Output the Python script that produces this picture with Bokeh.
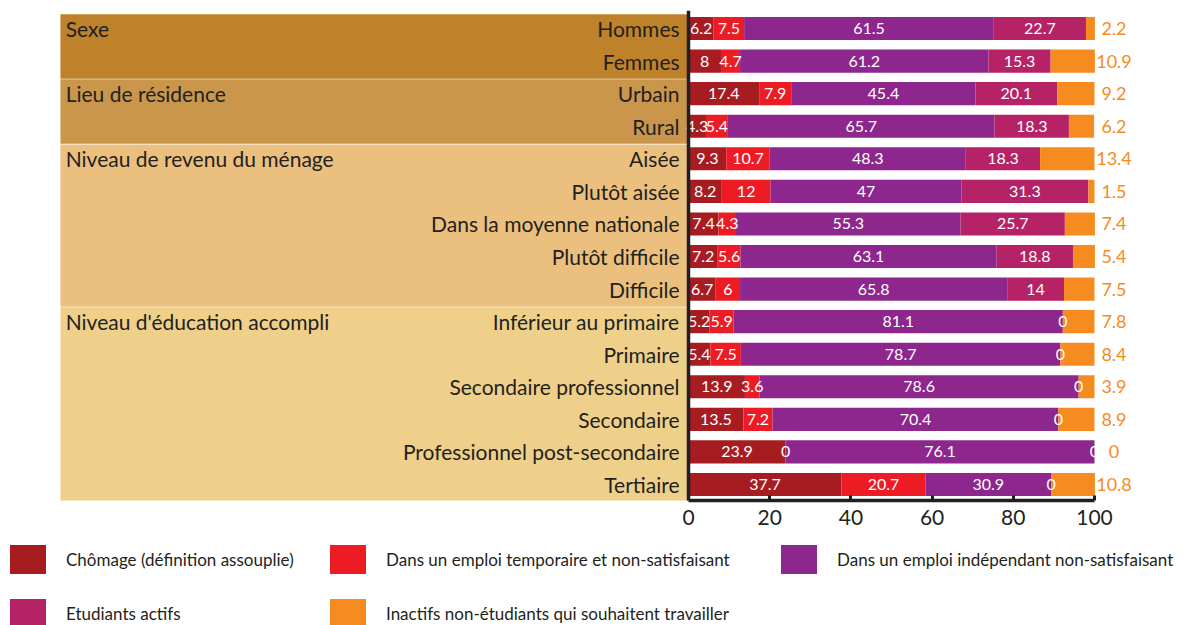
import numpy as np
from bokeh.plotting import figure
from bokeh.models import Range1d, LinearAxis, FixedTicker, Span, Legend, LegendItem
from bokeh.layouts import column
from bokeh.core.properties import value
from bokeh.embed import file_html
from bokeh.resources import INLINE

# ---------------- data ----------------
categories = ["Hommes", "Femmes", "Urbain", "Rural", "Aisée", "Plutôt aisée",
              "Dans la moyenne nationale", "Plutôt difficile", "Difficile",
              "Inférieur au primaire", "Primaire", "Secondaire professionnel",
              "Secondaire", "Professionnel post-secondaire", "Tertiaire"]
group_names = ["Sexe", "Lieu de résidence", "Niveau de revenu du ménage",
               "Niveau d'éducation accompli"]
group_sizes = [2, 2, 5, 6]
series_names = ["Chômage (définition assouplie)",
                "Dans un emploi temporaire et non-satisfaisant",
                "Dans un emploi indépendant non-satisfaisant",
                "Etudiants actifs",
                "Inactifs non-étudiants qui souhaitent travailler"]
chomage = [6.2, 8, 17.4, 4.3, 9.3, 8.2, 7.4, 7.2, 6.7, 5.2, 5.4, 13.9, 13.5, 23.9, 37.7]
temporaire = [7.5, 4.7, 7.9, 5.4, 10.7, 12, 4.3, 5.6, 6, 5.9, 7.5, 3.6, 7.2, 0, 20.7]
independant = [61.5, 61.2, 45.4, 65.7, 48.3, 47, 55.3, 63.1, 65.8, 81.1, 78.7, 78.6, 70.4, 76.1, 30.9]
etudiants = [22.7, 15.3, 20.1, 18.3, 18.3, 31.3, 25.7, 18.8, 14, 0, 0, 0, 0, 0, 0]
inactifs = [2.2, 10.9, 9.2, 6.2, 13.4, 1.5, 7.4, 5.4, 7.5, 7.8, 8.4, 3.9, 8.9, 0, 10.8]
x_ticks = [0, 20, 40, 60, 80, 100]

# ---------------- style ----------------
FONT = "Lato"
INK = "#231F20"
colors = ["#A71C20", "#ED1C24", "#8E278D", "#B52266", "#F68B1F"]
box_colors = ["#BE822A", "#C9964C", "#EBBF7E", "#EED08A"]
BOX_LEFT = -154.7
TITLE_X = -153.4
CAT_X = -2.2
OUT_LABEL_X = 104.8

def fmt(v):
    return f"{v:g}"

n = len(categories)
ypos = np.arange(n)[::-1].astype(float)
series = [chomage, temporaire, independant, etudiants, inactifs]
vals = np.array(series, dtype=float)
rights = np.cumsum(vals, axis=0)
lefts = rights - vals

XR = (-169.46, 122.17)
YR = (-0.491, 14.553)

p = figure(width=1184, height=538,
           x_range=Range1d(*XR), y_range=Range1d(*YR),
           output_backend="svg", toolbar_location=None,
           x_axis_type=None, y_axis_type=None,
           min_border_left=0, min_border_right=0,
           min_border_top=10, min_border_bottom=38)
p.outline_line_color = None
p.background_fill_color = "white"

# group boxes
starts = np.cumsum([0] + group_sizes[:-1])
box_top = [ypos[s] + 0.44 for s in starts]
box_bottom = [ypos[s + g - 1] - 0.54 for s, g in zip(starts, group_sizes)]
p.quad(left=BOX_LEFT, right=0, top=box_top, bottom=box_bottom,
       fill_color=box_colors, line_color=None)

# group titles
p.text(x=TITLE_X, y=[ypos[s] for s in starts], text=group_names,
       text_font=value(FONT), text_font_size="21px", text_color=INK,
       text_align="left", text_baseline="middle")

# category labels
p.text(x=CAT_X, y=ypos, text=categories,
       text_font=value(FONT), text_font_size="21px", text_color=INK,
       text_align="right", text_baseline="middle")

# bars
for k in range(len(series)):
    p.hbar(y=ypos, left=lefts[k], right=rights[k], height=0.71,
           fill_color=colors[k], line_color=None)

# inner value labels
for k in range(4):
    p.text(x=(lefts[k] + rights[k]) / 2, y=ypos, text=[fmt(v) for v in series[k]],
           text_font=value(FONT), text_font_size="16px", text_color="white",
           text_align="center", text_baseline="middle")

# outer labels (inactifs)
p.text(x=OUT_LABEL_X, y=ypos, text=[fmt(v) for v in inactifs],
       text_font=value(FONT), text_font_size="18px", text_color=colors[4],
       text_align="center", text_baseline="middle")

# left axis line
p.add_layout(Span(location=0, dimension="height", line_color=INK, line_width=3.5))

# bottom axis
xaxis = LinearAxis(ticker=FixedTicker(ticks=x_ticks), bounds=(0, 100))
xaxis.axis_line_color = INK
xaxis.axis_line_width = 3.5
xaxis.major_tick_line_color = INK
xaxis.major_tick_line_width = 3
xaxis.major_tick_in = 5
xaxis.major_tick_out = 0
xaxis.minor_tick_line_color = None
xaxis.major_label_standoff = 9
xaxis.major_label_text_font = FONT
xaxis.major_label_text_font_size = "21px"
xaxis.major_label_text_color = INK
p.add_layout(xaxis, "below")

# ---------------- legend panel ----------------
LH = 87
lf = figure(width=1184, height=LH, x_range=Range1d(*XR), y_range=Range1d(100, 101),
            output_backend="svg", toolbar_location=None,
            x_axis_type=None, y_axis_type=None, min_border=0)
lf.outline_line_color = None
# same bars (kept out of view) serve as legend sources
lrends = [lf.hbar(y=ypos, left=lefts[k], right=rights[k], height=0.71,
                  fill_color=colors[k], line_color=None)
          for k in range(len(series))]

legend_cols = [[0, 3], [1, 4], [2]]
legend_x = [5, 325, 776]
LEG_TOP = 3
ITEM_H = 36
ITEM_GAP = 18
for col, lx in zip(legend_cols, legend_x):
    items = [LegendItem(label=series_names[i], renderers=[lrends[i]]) for i in col]
    h = len(col) * ITEM_H + (len(col) - 1) * ITEM_GAP
    leg = Legend(items=items, location=(lx, LH - LEG_TOP - h), orientation="vertical",
                 glyph_width=45, glyph_height=ITEM_H, label_height=ITEM_H,
                 label_standoff=16, spacing=ITEM_GAP,
                 padding=0, margin=0, border_line_color=None,
                 background_fill_alpha=0,
                 label_text_font=FONT, label_text_font_size="17px",
                 label_text_color=INK)
    lf.add_layout(leg, "center")

layout = column(p, lf)
open("out.html", "w").write(file_html(layout, INLINE))
